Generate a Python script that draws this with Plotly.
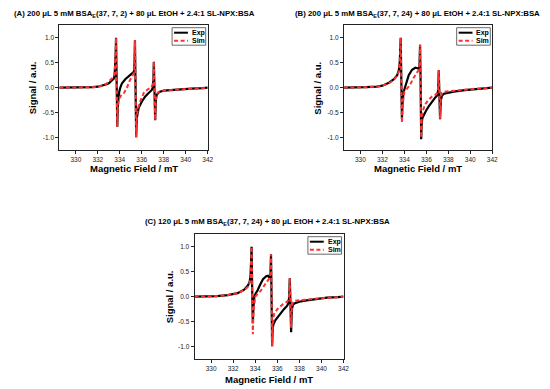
import plotly.graph_objects as go

W, H = 550, 389

# ---------------- data ----------------
# Panel A
field_A_exp = [328.5, 329.5, 330.5, 331.5, 332.0, 332.4, 332.8, 333.0, 333.3, 333.45, 333.53, 333.58, 333.62, 333.66,
               333.71, 333.77, 333.82, 333.88, 333.95, 334.05, 334.2, 334.5, 334.8, 335.0, 335.2, 335.3, 335.34, 335.38,
               335.43, 335.49, 335.55, 335.62, 335.72, 336.0, 336.3, 336.6, 336.9, 337.0, 337.06, 337.1, 337.16,
               337.22, 337.28, 337.35, 337.5, 337.65, 338.0, 338.5, 339.5, 340.5, 341.5, 342.0]
signal_A_exp = [0.0, 0.0, 0.005, 0.01, 0.02, 0.04, 0.07, 0.09, 0.14, 0.18, 0.25, 0.4, 0.65, 1.0,
                0.2, -0.78, -0.35, -0.15, -0.08, 0.0, 0.09, 0.17, 0.23, 0.26, 0.29, 0.32, 0.5, 0.95,
                0.1, -0.99, -0.6, -0.47, -0.4, -0.28, -0.18, -0.11, -0.05, 0.0, 0.15, 0.52, 0.0,
                -0.65, -0.25, -0.15, -0.1, -0.08, -0.06, -0.05, -0.04, -0.02, -0.01, 0.0]
field_A_sim = [328.5, 329.5, 330.5, 331.5, 332.0, 332.4, 332.8, 333.1, 333.3, 333.45, 333.53, 333.58, 333.62, 333.66,
               333.71, 333.77, 333.82, 333.9, 334.0, 334.1, 334.4, 334.65, 334.9, 335.1, 335.25, 335.32, 335.38,
               335.43, 335.49, 335.55, 335.65, 335.9, 336.2, 336.5, 336.8, 336.98, 337.06, 337.1, 337.16,
               337.22, 337.28, 337.35, 337.5, 337.65, 338.0, 338.5, 339.5, 340.5, 341.5, 342.0]
signal_A_sim = [0.0, 0.0, 0.005, 0.01, 0.02, 0.04, 0.08, 0.15, 0.19, 0.22, 0.28, 0.42, 0.7, 1.0,
                0.2, -0.78, -0.4, -0.25, -0.2, -0.16, -0.1, 0.0, 0.14, 0.22, 0.28, 0.4, 0.95,
                0.1, -0.99, -0.6, -0.42, -0.25, -0.1, -0.04, 0.0, 0.05, 0.2, 0.52, 0.0,
                -0.65, -0.25, -0.13, -0.09, -0.07, -0.06, -0.05, -0.04, -0.02, -0.01, 0.0]

# Panel B
field_B_exp = [328.5, 329.5, 330.5, 331.5, 332.0, 332.6, 333.05, 333.35, 333.5, 333.58, 333.63, 333.67,
               333.72, 333.78, 333.84, 333.92, 334.05, 334.2, 334.4, 334.7, 335.0, 335.2, 335.32, 335.38,
               335.43, 335.48, 335.53, 335.58, 335.65, 335.8, 336.0, 336.2, 336.5, 336.8, 337.0, 337.08,
               337.13, 337.19, 337.25, 337.32, 337.42, 337.6, 338.0, 338.5, 339.5, 340.5, 341.5, 342.0]
signal_B_exp = [0.0, 0.0, 0.01, 0.02, 0.04, 0.1, 0.17, 0.25, 0.35, 0.5, 0.75, 1.0,
                0.2, -0.62, -0.3, -0.1, 0.0, 0.12, 0.25, 0.36, 0.4, 0.39, 0.38, 0.45,
                0.86, 0.1, -1.03, -0.7, -0.6, -0.52, -0.45, -0.38, -0.28, -0.2, -0.15, -0.05,
                0.35, -0.1, -0.63, -0.25, -0.16, -0.12, -0.1, -0.08, -0.05, -0.03, -0.01, 0.0]
field_B_sim = [328.5, 329.5, 330.5, 331.5, 332.0, 332.6, 333.05, 333.35, 333.5, 333.58, 333.63, 333.67,
               333.72, 333.78, 333.84, 333.92, 334.0, 334.25, 334.55, 334.85, 335.15, 335.32, 335.38,
               335.43, 335.48, 335.53, 335.58, 335.7, 335.9, 336.2, 336.5, 336.8, 337.0, 337.08,
               337.13, 337.19, 337.25, 337.32, 337.42, 337.6, 338.0, 338.5, 339.5, 340.5, 341.5, 342.0]
signal_B_sim = [0.0, 0.0, 0.01, 0.02, 0.04, 0.09, 0.16, 0.24, 0.33, 0.5, 0.75, 1.0,
                0.2, -0.7, -0.35, -0.15, -0.08, -0.02, 0.07, 0.2, 0.3, 0.36, 0.45,
                0.86, 0.1, -1.0, -0.6, -0.45, -0.33, -0.24, -0.18, -0.15, -0.1, 0.0,
                0.35, -0.1, -0.62, -0.2, -0.1, -0.08, -0.07, -0.06, -0.04, -0.02, -0.01, 0.0]

# Panel C
field_C_exp = [328.5, 329.5, 330.5, 331.5, 332.4, 333.0, 333.35, 333.5, 333.58, 333.63, 333.67,
               333.72, 333.78, 333.84, 333.92, 334.05, 334.2, 334.4, 334.7, 335.0, 335.15, 335.3, 335.38,
               335.43, 335.48, 335.53, 335.58, 335.65, 335.8, 336.0, 336.3, 336.6, 336.9, 337.02, 337.08,
               337.13, 337.19, 337.25, 337.32, 337.42, 337.6, 338.0, 338.5, 339.5, 340.5, 341.5, 342.0]
signal_C_exp = [0.0, 0.0, 0.01, 0.03, 0.07, 0.14, 0.23, 0.3, 0.45, 0.75, 1.0,
                0.2, -0.53, -0.2, 0.0, 0.07, 0.12, 0.22, 0.35, 0.41, 0.42, 0.38, 0.45,
                0.85, 0.1, -0.99, -0.65, -0.55, -0.48, -0.42, -0.33, -0.25, -0.18, -0.12, 0.0,
                0.37, -0.1, -0.71, -0.25, -0.16, -0.13, -0.1, -0.08, -0.05, -0.02, -0.01, 0.0]
field_C_sim = [328.5, 329.5, 330.5, 331.5, 332.4, 333.0, 333.35, 333.5, 333.58, 333.63, 333.67,
               333.72, 333.78, 333.84, 333.92, 334.0, 334.2, 334.5, 334.9, 335.2, 335.32, 335.38,
               335.43, 335.48, 335.53, 335.58, 335.7, 336.0, 336.5, 336.9, 337.02, 337.08,
               337.13, 337.19, 337.25, 337.32, 337.42, 337.6, 338.0, 338.5, 339.5, 340.5, 341.5, 342.0]
signal_C_sim = [0.0, 0.0, 0.01, 0.03, 0.07, 0.13, 0.2, 0.28, 0.45, 0.75, 1.0,
                0.2, -0.75, -0.3, -0.1, 0.0, 0.05, 0.12, 0.25, 0.33, 0.38, 0.45,
                0.85, 0.1, -0.99, -0.6, -0.35, -0.25, -0.15, -0.1, -0.05, 0.0,
                0.37, -0.1, -0.62, -0.2, -0.1, -0.08, -0.07, -0.06, -0.04, -0.02, -0.01, 0.0]

x_tick_vals = [330, 332, 334, 336, 338, 340, 342]
x_tick_text = ["330", "332", "334", "336", "338", "340", "342"]
y_tick_vals = [-1.0, -0.5, 0.0, 0.5, 1.0]
y_tick_text = ["-1.0", "-0.5", "0.0", "0.5", "1.0"]
x_range = [328.5, 342.0]
y_range = [-1.25, 1.25]

titles = [
    "(A) 200 μL 5 mM BSA<sub>E</sub>(37, 7, 2) + 80 μL EtOH + 2.4:1 SL-NPX:BSA",
    "(B) 200 μL 5 mM BSA<sub>E</sub>(37, 7, 24) + 80 μL EtOH + 2.4:1 SL-NPX:BSA",
    "(C) 120 μL 5 mM BSA<sub>E</sub>(37, 7, 24) + 80 μL EtOH + 2.4:1 SL-NPX:BSA",
]
legend_names = ["Exp", "Sim"]
x_title = "Magnetic Field / mT"
y_title = "Signal / a.u."

# ---------------- layout (pixel boxes) ----------------
panels = [
    dict(exp=(field_A_exp, signal_A_exp), sim=(field_A_sim, signal_A_sim),
         box=(60, 25.2, 210, 150.2), title_xy=(12, 14), ytitle_x=33, xtitle_y=169),
    dict(exp=(field_B_exp, signal_B_exp), sim=(field_B_sim, signal_B_sim),
         box=(347.7, 25.2, 497.7, 150.2), title_xy=(296.5, 14), ytitle_x=321.5, xtitle_y=169),
    dict(exp=(field_C_exp, signal_C_exp), sim=(field_C_sim, signal_C_sim),
         box=(196.7, 234.2, 347.3, 359.2), title_xy=(145, 222), ytitle_x=171.5, xtitle_y=379),
]

def px(x):
    return x / W

def py(y):
    return 1 - y / H

FONT = "Liberation Sans, Arial, sans-serif"
fig = go.Figure()
annotations = []
shapes = []

for i, p in enumerate(panels):
    n = "" if i == 0 else str(i + 1)
    xa, ya = "x" + n, "y" + n
    fig.add_trace(go.Scatter(x=p["exp"][0], y=p["exp"][1], mode="lines", name=legend_names[0],
                             line=dict(color="black", width=2.2), xaxis=xa, yaxis=ya, showlegend=False))
    fig.add_trace(go.Scatter(x=p["sim"][0], y=p["sim"][1], mode="lines", name=legend_names[1],
                             line=dict(color="#ff3030", width=2, dash="4px,2.5px"), xaxis=xa, yaxis=ya,
                             showlegend=False))
    x0, y0, x1, y1 = p["box"]
    axcommon = dict(showline=True, linecolor="#222", linewidth=1, mirror=True, ticks="outside",
                    ticklen=3, tickwidth=1, tickcolor="#222", showgrid=False, zeroline=False,
                    tickfont=dict(family=FONT, size=6.5, color="#222"))
    fig.layout["xaxis" + n] = dict(domain=[px(x0), px(x1)], anchor=ya, range=x_range,
                                   tickvals=x_tick_vals, ticktext=x_tick_text, **axcommon)
    fig.layout["yaxis" + n] = dict(domain=[py(y1), py(y0)], anchor=xa, range=y_range,
                                   tickvals=y_tick_vals, ticktext=y_tick_text, **axcommon)
    tx, ty = p["title_xy"]
    annotations.append(dict(text="<b>" + titles[i] + "</b>", x=px(tx), y=py(ty), xref="paper", yref="paper",
                            xanchor="left", yanchor="middle", showarrow=False,
                            font=dict(family=FONT, size=7.8, color="black")))
    annotations.append(dict(text="<b>" + y_title + "</b>", x=px(p["ytitle_x"]), y=py((y0 + y1) / 2),
                            xref="paper", yref="paper", xanchor="center", yanchor="middle",
                            textangle=-90, showarrow=False, font=dict(family=FONT, size=9.5, color="black")))
    annotations.append(dict(text="<b>" + x_title + "</b>", x=px((x0 + x1) / 2), y=py(p["xtitle_y"]),
                            xref="paper", yref="paper", xanchor="center", yanchor="middle",
                            showarrow=False, font=dict(family=FONT, size=9.5, color="black")))
    # legend drawn manually
    lx0, lx1 = x1 - 36, x1 - 2
    ly0, ly1 = y0 + 2.5, y0 + 20
    shapes.append(dict(type="rect", xref="paper", yref="paper", x0=px(lx0), x1=px(lx1), y0=py(ly1), y1=py(ly0),
                       line=dict(color="#444", width=0.8), fillcolor="white"))
    shapes.append(dict(type="line", xref="paper", yref="paper", x0=px(lx0 + 2), x1=px(lx0 + 16),
                       y0=py(ly0 + 5), y1=py(ly0 + 5), line=dict(color="black", width=2)))
    shapes.append(dict(type="line", xref="paper", yref="paper", x0=px(lx0 + 2), x1=px(lx0 + 16),
                       y0=py(ly0 + 13), y1=py(ly0 + 13), line=dict(color="#ff3030", width=2, dash="4px,2.5px")))
    for k, nm in enumerate(legend_names):
        annotations.append(dict(text="<b>" + nm + "</b>", x=px(lx0 + 18), y=py(ly0 + 5 + 8 * k),
                                xref="paper", yref="paper", xanchor="left", yanchor="middle",
                                showarrow=False, font=dict(family=FONT, size=7, color="black")))

fig.update_layout(width=W, height=H, margin=dict(l=0, r=0, t=0, b=0), paper_bgcolor="white",
                  plot_bgcolor="white", showlegend=False, annotations=annotations, shapes=shapes)
fig.write_html("out.html", config={"displayModeBar": False},
               post_script="document.body.style.margin='0';document.body.style.overflow='hidden';")
